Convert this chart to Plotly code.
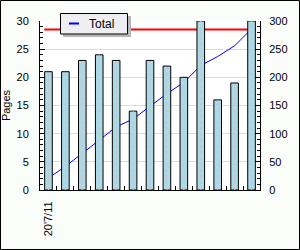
import plotly.graph_objects as go
import numpy as np

# Data
categories = list(range(13))
tick_labels = ["20'7/11", "", "", "", "", "", "", "", "", "", "", "", ""]
pages = [21, 21, 23, 24, 23, 14, 23, 22, 20, 30, 16, 19, 30]
total = list(np.cumsum(pages))
series_name = "Total"
target_total = 285

W, H = 300, 250
ml, mr, mt, mb = 40, 40, 21, 60
pw, ph = W - ml - mr, H - mt - mb


def px_x(x):
    return (x - ml) / pw


def px_y(y):
    return (H - mb - y) / ph


FONT = "Liberation Sans"

fig = go.Figure()

# threshold line (right axis, underneath bars)
fig.add_trace(go.Scatter(
    x=[categories[0] - 0.25, categories[-1] + 0.25], y=[target_total, target_total],
    mode="lines", line=dict(color="#FF0000", width=2), yaxis="y",
    showlegend=False, hoverinfo="skip"))

# cumulative total line (right axis)
fig.add_trace(go.Scatter(
    x=categories, y=total, mode="lines", name=series_name,
    line=dict(color="#0000FF", width=1), yaxis="y", showlegend=False))

# bars (left axis, overlaid on top)
fig.add_trace(go.Bar(
    x=categories, y=pages, yaxis="y2", width=0.45,
    marker=dict(color="#ADD8E6", line=dict(color="#000000", width=1)),
    showlegend=False))

# faint dotted centre line inside each bar
cx, cy = [], []
for c, v in zip(categories, pages):
    cx += [c, c, None]
    cy += [0, v, None]
fig.add_trace(go.Scatter(
    x=cx, y=cy, yaxis="y2", mode="lines",
    line=dict(color="#E3B9B9", width=1, dash="dot"),
    showlegend=False, hoverinfo="skip"))

font = dict(family=FONT, size=11, color="#000000")

fig.update_layout(
    template="none",
    width=W, height=H,
    margin=dict(l=ml, r=mr, t=mt, b=mb, pad=0, autoexpand=False),
    paper_bgcolor="#FAFDFA", plot_bgcolor="#FFFFFF",
    font=font,
    xaxis=dict(
        automargin=False,
        range=[-0.5, 12.5], tickmode="array", tickvals=categories, ticktext=tick_labels,
        tickangle=-90, ticks="", showgrid=False, zeroline=False,
        showline=True, linecolor="#000000", linewidth=1,
        tickfont=dict(family=FONT, size=11), ticklabelstandoff=6,
        minor=dict(tickmode="array", tickvals=[c + 0.5 for c in categories[:-1]],
                   ticks="inside", ticklen=4, tickcolor="#000000", showgrid=False),
    ),
    yaxis=dict(
        automargin=False,
        side="right", range=[0, 300], dtick=50, tick0=0,
        showgrid=True, gridcolor="#DDDDDD", gridwidth=1, zeroline=False,
        showline=True, linecolor="#000000", linewidth=1,
        ticks="inside", ticklen=5, tickcolor="#000000",
        minor=dict(dtick=10, ticks="inside", ticklen=3, tickcolor="#000000", showgrid=False),
        ticklabelstandoff=6,
    ),
    yaxis2=dict(
        automargin=False,
        side="left", overlaying="y", range=[0, 30], dtick=5, tick0=0,
        showgrid=False, zeroline=False,
        showline=True, linecolor="#000000", linewidth=1,
        ticks="inside", ticklen=5, tickcolor="#000000",
        minor=dict(dtick=1, ticks="inside", ticklen=3, tickcolor="#000000", showgrid=False),
        title=dict(text="Pages", font=dict(family=FONT, size=11), standoff=3),
        ticklabelstandoff=8,
    ),
    showlegend=False,
)

# legend (drawn manually): shadow, box, sample line, label
fig.add_shape(type="rect", xref="paper", yref="paper",
              x0=px_x(63), x1=px_x(131), y0=px_y(37), y1=px_y(16),
              fillcolor="#B8B8B8", line=dict(width=0), layer="above")
fig.add_shape(type="rect", xref="paper", yref="paper",
              x0=px_x(60.5), x1=px_x(127.5), y0=px_y(34), y1=px_y(13.5),
              fillcolor="#EEEEF3", line=dict(color="#000000", width=1), layer="above")
fig.add_shape(type="line", xref="paper", yref="paper",
              x0=px_x(69), x1=px_x(79), y0=px_y(23.5), y1=px_y(23.5),
              line=dict(color="#0000FF", width=2), layer="above")
fig.add_annotation(xref="paper", yref="paper", x=px_x(87), y=px_y(24),
                   xanchor="left", yanchor="middle", showarrow=False,
                   text=series_name, font=dict(family=FONT, size=12, color="#000000"))

# outer frame
fig.add_shape(type="rect", xref="paper", yref="paper",
              x0=px_x(0.5), x1=px_x(W - 0.5), y0=px_y(H - 0.5), y1=px_y(0.5),
              line=dict(color="#000000", width=1), fillcolor="rgba(0,0,0,0)", layer="above")

fig.write_html("out.html")
